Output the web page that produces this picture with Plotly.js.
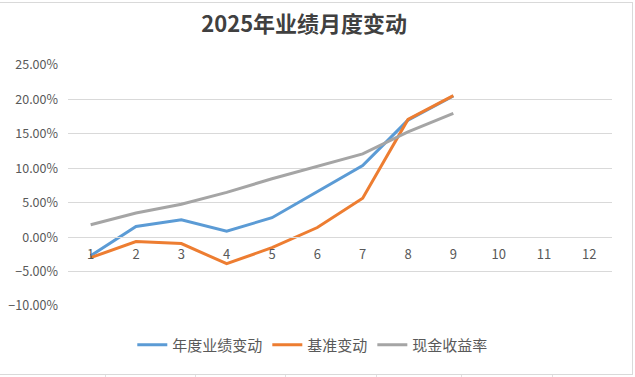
<!DOCTYPE html>
<html>
<head>
<meta charset="utf-8">
<script src="https://cdn.plot.ly/plotly-3.0.1.min.js"></script>
<style>
html,body{margin:0;padding:0;background:#fff;overflow:hidden;}
#wrap{position:absolute;left:0;top:2px;width:632px;height:371px;border-right:1px solid #d9d9d9;border-bottom:1px solid #d9d9d9;border-top:1px solid #d9d9d9;}
.cell{position:absolute;top:375px;width:1px;height:2px;background:#e0e0e0;}
#chart{width:635px;height:377px;position:absolute;left:0;top:0;}
</style>
</head>
<body>
<div id="wrap"></div>
<div class="cell" style="left:105px"></div>
<div class="cell" style="left:195px"></div>
<div class="cell" style="left:285px"></div>
<div class="cell" style="left:376px"></div>
<div class="cell" style="left:461px"></div>
<div class="cell" style="left:552px"></div>
<div id="chart"></div>
<script>
const months = ['1','2','3','4','5','6','7','8','9','10','11','12'];
const annualPerf = [-2.7, 1.55, 2.53, 0.87, 2.82, 6.67, 10.4, 17.0, 20.5];
const benchmark = [-2.98, -0.64, -0.93, -3.86, -1.52, 1.4, 5.64, 17.1, 20.56];
const cashYield = [1.8, 3.5, 4.77, 6.5, 8.48, 10.3, 12.1, 15.3, 17.98];
const names = ['年度业绩变动', '基准变动', '现金收益率'];
const colors = ['#5B9BD5', '#ED7D31', '#A5A5A5'];
const series = [annualPerf, benchmark, cashYield];
const yRange = [-10, 25];

const traces = series.map((vals, i) => ({
  type: 'scatter', mode: 'lines',
  x: months.slice(0, vals.length), y: vals,
  name: names[i],
  line: {color: colors[i], width: 3, shape: 'linear'},
  hoverinfo: 'skip'
}));

const font = {family: '"Noto Sans CJK SC", "Noto Sans", sans-serif', color: '#595959', size: 12};

const layout = {
  width: 635, height: 377,
  margin: {l: 68, r: 23, t: 65, b: 71, pad: 0, autoexpand: false},
  paper_bgcolor: 'rgba(0,0,0,0)', plot_bgcolor: 'rgba(0,0,0,0)',
  font: font,
  title: {
    text: '<b>2025年业绩月度变动</b>',
    font: {family: '"Noto Sans CJK SC", sans-serif', size: 22, color: '#404040'},
    xref: 'container', x: 0.479, xanchor: 'center',
    yref: 'container', y: 0.935, yanchor: 'middle'
  },
  xaxis: {
    type: 'category', categoryarray: months, categoryorder: 'array',
    range: [-0.5, 11.5],
    anchor: 'free', position: (0 - yRange[0]) / (yRange[1] - yRange[0]),
    showgrid: false, zeroline: false,
    showline: true, linecolor: '#d9d9d9', linewidth: 1,
    ticks: '', ticklabelstandoff: 5,
    tickfont: {size: 13, color: '#595959'}
  },
  yaxis: {
    range: yRange, dtick: 5, tick0: 0,
    tickformat: '.2f', ticksuffix: '%',
    showgrid: true, gridcolor: '#d9d9d9', gridwidth: 1,
    zeroline: false, showline: false, ticks: '',
    ticklabelstandoff: 9,
    tickfont: {size: 12.5, color: '#595959'}
  },
  legend: {
    orientation: 'h', x: 0.45, xanchor: 'center',
    y: -0.162, yanchor: 'middle',
    font: {size: 15, color: '#595959'},
    itemwidth: 30, tracegroupgap: 0
  },
  showlegend: true
};

Plotly.newPlot('chart', traces, layout, {displayModeBar: false, staticPlot: true});
</script>
</body>
</html>
